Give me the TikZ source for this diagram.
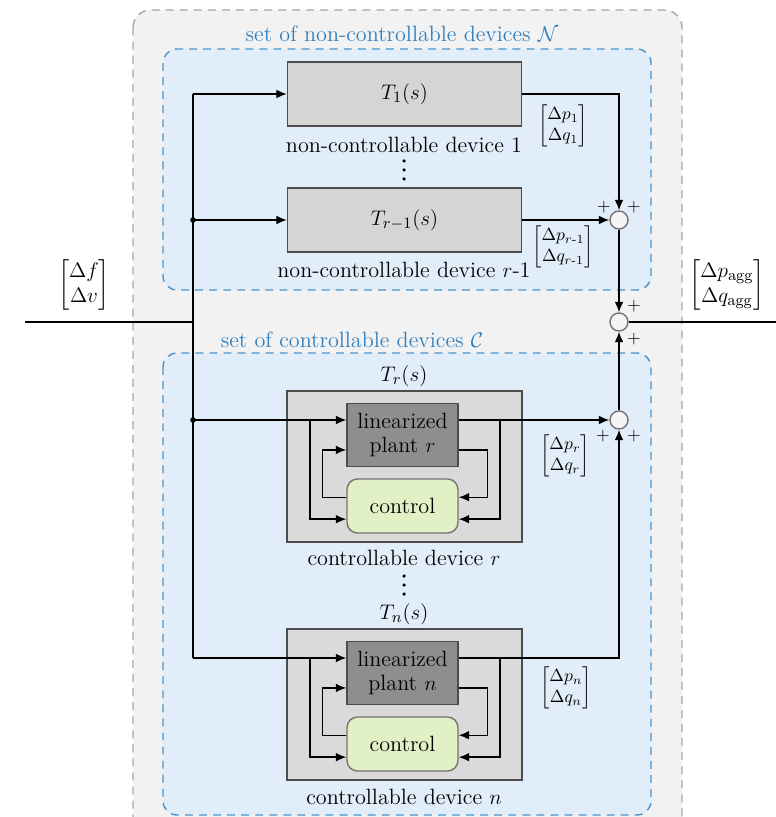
\documentclass[tikz,border=0pt,12pt]{standalone}
\usepackage{amsmath}
\usetikzlibrary{arrows.meta}
\definecolor{outerfill}{HTML}{F2F2F2}
\definecolor{outerdash}{HTML}{A6A6A6}
\definecolor{setfill}{HTML}{E1EDF8}
\definecolor{setdash}{HTML}{4D94CC}
\definecolor{setlabel}{HTML}{2F7FBF}
\definecolor{blockgray}{HTML}{D5D5D5}
\definecolor{devgray}{HTML}{DADADA}
\definecolor{plantgray}{HTML}{8E8E8E}
\definecolor{ctrlgreen}{HTML}{E2F0C6}
\definecolor{sumfill}{HTML}{F5F5F5}

\begin{document}
\begin{tikzpicture}[x=0.02cm,y=0.02cm,line width=0.8pt,
    font=\fontsize{12.6}{14}\selectfont,
    block node/.style={rectangle,draw=black!70,fill=blockgray,minimum width=4.68cm,minimum height=1.28cm,inner sep=0pt},
    device node/.style={rectangle,draw=black!70,fill=devgray,minimum width=4.7cm,minimum height=3.02cm,inner sep=0pt},
    plant node/.style={rectangle,draw=black!70,fill=plantgray,minimum width=2.22cm,minimum height=1.26cm,inner sep=0pt,align=center},
    control node/.style={rectangle,rounded corners=6pt,draw=black!55,fill=ctrlgreen,minimum width=2.22cm,minimum height=1.08cm,inner sep=0pt},
    sum node/.style={circle,draw=black!55,fill=sumfill,minimum size=0.36cm,inner sep=0pt},
    set box/.style={draw=setdash,dash pattern=on 4.5pt off 3.5pt,fill=setfill,rounded corners=8pt},
    label node/.style={inner sep=0pt},
    vec node/.style={font=\footnotesize},
    plus node/.style={font=\footnotesize,inner sep=0pt},
    signal/.style={-{Latex[length=6pt,width=5pt]}}
  ]
  \useasboundingbox (0,0) rectangle (776,-817);
  \clip (0,0) rectangle (776,-817);

  % background sets
  \draw[draw=outerdash,dash pattern=on 4.5pt off 3.5pt,fill=outerfill,rounded corners=10pt] (133,-10) rectangle (682,-900);
  \draw[set box] (163,-49) rectangle (651,-290);
  \draw[set box] (163,-353) rectangle (651,-815);
  \node[text=setlabel] (Nlab) at (402,-34) {set of non-controllable devices $\mathcal{N}$};
  \node[text=setlabel] (Clab) at (352,-340) {set of controllable devices $\mathcal{C}$};

  % non-controllable devices
  \node[block node] (T1) at (404.5,-94) {$T_1(s)$};
  \node[label node] (T1dev) at (404,-145) {non-controllable device 1};
  \fill (404,-161) circle (1pt) (404,-170) circle (1pt) (404,-179) circle (1pt); % vertical dots
  \node[block node] (Tr1) at (404.5,-220) {$T_{r-1}(s)$};
  \node[label node] (Tr1dev) at (404,-270) {non-controllable device $r$-1};

  % controllable device r
  \node[device node] (Tr) at (404.5,-466.5) {};
  \node[label node] (Trlab) at (404,-376) {$T_r(s)$};
  \node[plant node] (Pr) at (402.5,-435) {linearized\\plant $r$};
  \node[control node] (Cr) at (402.5,-506) {control};
  \node[label node] (Trdev) at (404,-558) {controllable device $r$};
  \fill (404,-576) circle (1pt) (404,-585) circle (1pt) (404,-594) circle (1pt); % vertical dots

  % controllable device n
  \node[device node] (Tn) at (404.5,-704.5) {};
  \node[label node] (Tnlab) at (404,-614) {$T_n(s)$};
  \node[plant node] (Pn) at (402.5,-673) {linearized\\plant $n$};
  \node[control node] (Cn) at (402.5,-744) {control};
  \node[label node] (Tndev) at (404,-797) {controllable device $n$};

  % summing points
  \node[sum node] (s1) at (619,-220) {};
  \node[sum node] (s2) at (619,-322) {};
  \node[sum node] (s3) at (619,-420) {};
  \node[plus node] (p1l) at (604,-207) {$+$};
  \node[plus node] (p1r) at (634,-207) {$+$};
  \node[plus node] (p2t) at (634,-306) {$+$};
  \node[plus node] (p2b) at (634,-339) {$+$};
  \node[plus node] (p3l) at (603,-436) {$+$};
  \node[plus node] (p3r) at (634,-436) {$+$};

  % signal labels
  \node (vin) at (84,-285) {$\begin{bmatrix}\Delta f\\ \Delta v\end{bmatrix}$};
  \node (vout) at (727,-285) {$\begin{bmatrix}\Delta p_{\mathrm{agg}}\\ \Delta q_{\mathrm{agg}}\end{bmatrix}$};
  \node[vec node] (v1) at (563,-126) {$\begin{bmatrix}\Delta p_1\\ \Delta q_1\end{bmatrix}$};
  \node[vec node] (vr1) at (563,-247) {$\begin{bmatrix}\Delta p_{r\text{-}1}\\ \Delta q_{r\text{-}1}\end{bmatrix}$};
  \node[vec node] (vr) at (565,-456) {$\begin{bmatrix}\Delta p_r\\ \Delta q_r\end{bmatrix}$};
  \node[vec node] (vn) at (566,-688) {$\begin{bmatrix}\Delta p_n\\ \Delta q_n\end{bmatrix}$};

  % bus
  \coordinate (in) at (25,-322);
  \coordinate (out) at (776,-322);
  \coordinate (jt) at (193,-94);
  \coordinate (j1) at (193,-220);
  \coordinate (jm) at (193,-322);
  \coordinate (jr) at (193,-420);
  \coordinate (jn) at (193,-658);
  \draw (in) -- (jm);
  \draw (jt) -- (jn);
  \fill (j1) circle (1.6pt) (jr) circle (1.6pt);

  \draw[signal] (jt) -- (T1.west);
  \draw[signal] (j1) -- (Tr1.west);
  \draw[signal] (T1.east) -| (s1.north);
  \draw[signal] (Tr1.east) -- (s1.west);
  \draw[signal] (s1) -- (s2);
  \draw[signal] (s3) -- (s2);
  \draw (s2.east) -- (out);

  % loops inside device r
  \coordinate (ar) at (310,-420);
  \coordinate (br) at (500,-420);
  \draw[signal] (jr) -- (Pr.west |- jr);
  \draw[signal] (Pr.east |- jr) -- (s3.west);
  \draw[signal] (ar) |- ([yshift=-7.5pt]Cr.west);
  \draw[signal] (br) |- ([yshift=-7.5pt]Cr.east);
  \draw[signal] ([yshift=5pt]Cr.west) -- ++(-24,0) |- ([yshift=-8.5pt]Pr.west);
  \draw[signal] ([yshift=-8.5pt]Pr.east) -- ++(29,0) |- ([yshift=5pt]Cr.east);

  % loops inside device n
  \coordinate (an) at (310,-658);
  \coordinate (bn) at (500,-658);
  \draw[signal] (jn) -- (Pn.west |- jn);
  \draw[signal] (Pn.east |- jn) -| (s3.south);
  \draw[signal] (an) |- ([yshift=-7.5pt]Cn.west);
  \draw[signal] (bn) |- ([yshift=-7.5pt]Cn.east);
  \draw[signal] ([yshift=5pt]Cn.west) -- ++(-24,0) |- ([yshift=-8.5pt]Pn.west);
  \draw[signal] ([yshift=-8.5pt]Pn.east) -- ++(29,0) |- ([yshift=5pt]Cn.east);
\end{tikzpicture}
\end{document}
